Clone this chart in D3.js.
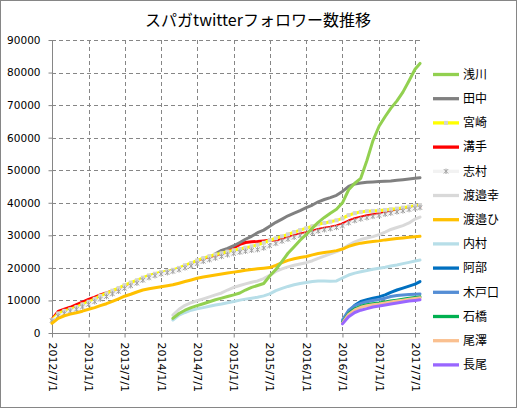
<!DOCTYPE html>
<html><head><meta charset="utf-8">
<script src="https://cdn.jsdelivr.net/npm/d3@7"></script>
<style>body{margin:0;background:#fff}svg{display:block}</style>
</head><body><svg id="c" width="517" height="408"></svg>
<script>
// ---- data ----
const dates = [
"2012-07-01","2012-08-01","2012-09-01","2012-10-01","2012-11-01","2012-12-01",
"2013-01-01","2013-02-01","2013-03-01","2013-04-01","2013-05-01","2013-06-01","2013-07-01","2013-08-01","2013-09-01","2013-10-01","2013-11-01","2013-12-01",
"2014-01-01","2014-02-01","2014-03-01","2014-04-01","2014-05-01","2014-06-01","2014-07-01","2014-08-01","2014-09-01","2014-10-01","2014-11-01","2014-12-01",
"2015-01-01","2015-02-01","2015-03-01","2015-04-01","2015-05-01","2015-06-01","2015-07-01","2015-08-01","2015-09-01","2015-10-01","2015-11-01","2015-12-01",
"2016-01-01","2016-02-01","2016-03-01","2016-04-01","2016-05-01","2016-06-01","2016-07-01","2016-08-01","2016-09-01","2016-10-01","2016-11-01","2016-12-01",
"2017-01-01","2017-02-01","2017-03-01","2017-04-01","2017-05-01","2017-06-01","2017-07-01","2017-07-26"];

const xTickLabels = ["2012/7/1","2013/1/1","2013/7/1","2014/1/1","2014/7/1","2015/1/1","2015/7/1","2016/1/1","2016/7/1","2017/1/1","2017/7/1"];
const yTicks = [0,10000,20000,30000,40000,50000,60000,70000,80000,90000];

const asakawa = [4500,6000,7000,7800,8400,9000,9600,10200,10700,11200,
 11700,12300,13200,14000,14600,15200,17500,19500,22000,24500,26500,28500,
 30300,32200,34000,35500,36800,38000,40000,44000,46000,47500,53000,59000,
 63500,66500,69000,71300,74000,77500,81000,82800];
const tanaka = [24300,25400,26000,
 26800,27800,28800,29700,30800,31600,32800,34000,35000,36000,36800,37600,
 38500,39300,40300,41000,41600,42300,43500,45000,45800,46100,46300,46400,
 46500,46600,46700,46900,47100,47300,47500,47700];
const miyazaki = [4000,6000,6800,7300,8000,8800,
 9600,10500,11400,12200,13000,13800,14700,15500,16200,17000,17700,18200,
 18700,19000,19400,20000,20800,21500,22300,23000,23600,24100,24500,25000,
 25400,25800,26200,26600,27100,27700,28500,29100,29700,30300,31000,31600,
 32200,32800,33400,33800,34200,34600,35200,36200,36800,37200,37400,37500,
 37600,37800,38000,38200,38500,38800,39100,39300];
const mizote = [4200,6600,7300,7900,8700,9500,
 10300,11000,11700,12300,12900,13600,14200,15000,15700,16500,17300,17800,
 18300,18700,19100,19600,20300,21000,21700,22400,23000,23500,24100,25000,
 26200,27200,27800,28000,28100,28300,28500,28600,28900,29300,29900,30400,
 30800,31300,31800,32200,32500,32900,33500,34400,35100,35600,36000,36300,
 36600,37000,37300,37600,37900,38300,38600,38800];
const shimura = [3800,5200,6000,6700,7300,8000,
 8800,9600,10400,11200,12000,12800,13700,14500,15300,16200,17000,17600,
 18100,18500,18900,19400,20000,20600,21300,22000,22500,23000,23500,24000,
 24400,24800,25100,25400,25600,26100,26800,27500,28200,28800,29400,29900,
 30300,30800,31300,31700,32000,32400,32900,33800,34500,35000,35400,35800,
 36100,36500,36800,37200,37500,37900,38300,38500];
const watanabeSachi = [5500,7300,8500,9300,9900,10500,11100,11700,12300,13200,
 14000,14600,15100,15600,16000,16700,17700,18900,19700,20300,20800,21200,
 21600,22200,22900,23600,24300,25000,25800,27000,28000,28700,29200,29600,
 30200,31000,31800,32400,33000,33800,35000,35600];
const watanabeHi = [3000,4500,5300,5800,6200,6700,
 7300,7800,8400,9000,9700,10500,11300,11900,12600,13200,13600,13900,
 14200,14500,14800,15300,15800,16300,16800,17200,17500,17800,18100,18400,
 18700,19000,19300,19500,19700,19900,20100,20800,21600,22300,22800,23200,
 23500,24000,24400,24700,25000,25300,25800,26600,27200,27600,27900,28100,
 28300,28600,28800,29000,29200,29400,29600,29700];
const uchimura = [4000,5500,6300,7000,7400,7800,8200,8600,8900,9300,
 9700,10100,10400,10700,11000,11400,12000,13000,13700,14300,14800,15200,
 15500,15800,16000,16000,15900,16000,16900,17800,18400,18800,19200,19600,
 19900,20200,20600,20900,21300,21700,22100,22400];
const abe = [3500,6500,8500,9700,10200,10700,11100,11700,12500,13200,13800,14400,15000,15800];
const kidoguchi = [4000,7000,8400,9100,9600,10000,10300,10700,11200,11500,11700,11800,11900,12000];
const ishibashi = [3200,6000,7400,8200,8700,9000,9200,9500,9800,10100,10400,10700,10900,11100];
const ozawa = [3000,5700,7100,7900,8400,8700,8900,9200,9500,9800,10100,10400,10600,10800];
const nagao = [2800,5000,6300,7000,7500,8000,8300,8600,8900,9200,9500,9800,10000,10200];

const seriesNames = ["浅川","田中","宮崎","溝手","志村","渡邉幸","渡邉ひ","内村","阿部","木戸口","石橋","尾澤","長尾"];
const seriesValues = [asakawa,tanaka,miyazaki,mizote,shimura,watanabeSachi,watanabeHi,uchimura,abe,kidoguchi,ishibashi,ozawa,nagao];
const seriesStart = ["2014-03-01","2014-10-01","2012-07-01","2012-07-01","2012-07-01","2014-03-01","2012-07-01","2014-03-01","2016-07-01","2016-07-01","2016-07-01","2016-07-01","2016-07-01"];

// ---- styles ----
const colors = ["#92D050","#808080","#FFFF00","#FF0000","#F2F2F2","#D9D9D9","#FFC000","#B7DEE8","#0070C0","#558ED5","#00B050","#FAC090","#9966FF"];
const markers = [null,null,"square",null,"star",null,null,null,null,null,null,null,null];
const drawOrder = [3,1,2,4,5,6,7,0,8,9,10,11,12];

const W = 517, H = 408;
const M = {left:52, right:420, top:40, bottom:333};
const parse = d3.timeParse("%Y-%m-%d");
const parseTick = d3.timeParse("%Y/%m/%d");
const allDates = dates.map(parse);

const svg = d3.select("#c");
svg.append("rect").attr("x",0.5).attr("y",0.5).attr("width",W-1).attr("height",H-1)
  .attr("fill","#fff").attr("stroke","#868686");

const x = d3.scaleTime().domain([parse("2012-07-01"), parse("2017-07-26")]).range([M.left, M.right]);
const y = d3.scaleLinear().domain([0,90000]).range([M.bottom, M.top]);
const tickDates = xTickLabels.map(parseTick);

// gridlines
const grid = svg.append("g").attr("stroke","#868686").attr("stroke-width",1).attr("stroke-dasharray","4,3");
grid.selectAll("line.h").data(yTicks.filter(v=>v>0)).join("line")
  .attr("x1",M.left).attr("x2",M.right)
  .attr("y1",d=>Math.round(y(d))+0.5).attr("y2",d=>Math.round(y(d))+0.5);
grid.selectAll("line.v").data(tickDates.slice(1)).join("line")
  .attr("y1",M.top).attr("y2",M.bottom)
  .attr("x1",d=>Math.round(x(d))+0.5).attr("x2",d=>Math.round(x(d))+0.5);

// axes
const yAxis = svg.append("g").attr("transform",`translate(${M.left+0.5},0)`)
  .call(d3.axisLeft(y).tickValues(yTicks).tickSize(4).tickPadding(8).tickFormat(d3.format("d")));
const xAxis = svg.append("g").attr("transform",`translate(0,${M.bottom+0.5})`)
  .call(d3.axisBottom(x).tickValues(tickDates).tickSize(4).tickSizeOuter(0).tickFormat(d3.timeFormat("%Y/%-m/%-d")));
yAxis.select(".domain").attr("d",`M0,${M.top}V${M.bottom}`);
xAxis.select(".domain").attr("d",`M${M.left},0H${M.right}`);
[yAxis,xAxis].forEach(a=>{
  a.selectAll(".domain,.tick line").attr("stroke","#868686");
  a.selectAll("text").attr("fill","#000").style("font-family","'DejaVu Sans',sans-serif");
});
yAxis.selectAll("text").style("font-size","10.5px");
xAxis.selectAll("text").style("font-size","11px")
  .attr("transform","rotate(90)").attr("text-anchor","start")
  .attr("x",9).attr("y",0).attr("dy","0.35em");

// lines
const line = d3.line().x(d=>x(d.date)).y(d=>y(d.value));
const plot = svg.append("g");
function starPath(cx,cy,r){
  return `M${cx-r},${cy-r}L${cx+r},${cy+r}M${cx-r},${cy+r}L${cx+r},${cy-r}M${cx},${cy-r-0.5}L${cx},${cy+r+0.5}`;
}
drawOrder.forEach(i=>{
  const s = dates.indexOf(seriesStart[i]);
  const pts = seriesValues[i].map((v,k)=>({date:allDates[s+k], value:v}));
  plot.append("path").datum(pts).attr("d",line)
    .attr("fill","none").attr("stroke",colors[i]).attr("stroke-width",3)
    .attr("stroke-linejoin","round").attr("stroke-linecap","round");
  if (markers[i]==="square"){
    plot.append("g").selectAll("rect").data(pts).join("rect")
      .attr("x",d=>x(d.date)-2).attr("y",d=>y(d.value)-2).attr("width",4).attr("height",4)
      .attr("fill","#D4D4D4");
  } else if (markers[i]==="star"){
    plot.append("g").selectAll("path").data(pts).join("path")
      .attr("d",d=>starPath(x(d.date),y(d.value),2.2))
      .attr("stroke","#A0A0A0").attr("stroke-width",1).attr("fill","none");
  }
});

// legend
const lg = svg.append("g");
seriesNames.forEach((name,i)=>{
  const ly = 74.5 + i*24.2;
  lg.append("line").attr("x1",433).attr("x2",459).attr("y1",ly).attr("y2",ly)
    .attr("stroke",colors[i]).attr("stroke-width",3.3);
  if (markers[i]==="square"){
    lg.append("rect").attr("x",444).attr("y",ly-2).attr("width",4).attr("height",4).attr("fill","#D4D4D4");
  } else if (markers[i]==="star"){
    lg.append("path").attr("d",starPath(446,ly,2.2)).attr("stroke","#A0A0A0").attr("stroke-width",1);
  }
  lg.append("text").attr("x",463).attr("y",ly).attr("dy","0.36em")
    .style("font-family","'Noto Sans CJK JP',sans-serif").style("font-size","12px")
    .attr("fill","#000").text(name);
});

// title
svg.append("text").attr("x",258).attr("y",26).attr("text-anchor","middle")
  .style("font-family","'Noto Sans CJK JP',sans-serif").style("font-size","16px")
  .attr("fill","#000").text("スパガtwitterフォロワー数推移");
</script>
</body></html>
